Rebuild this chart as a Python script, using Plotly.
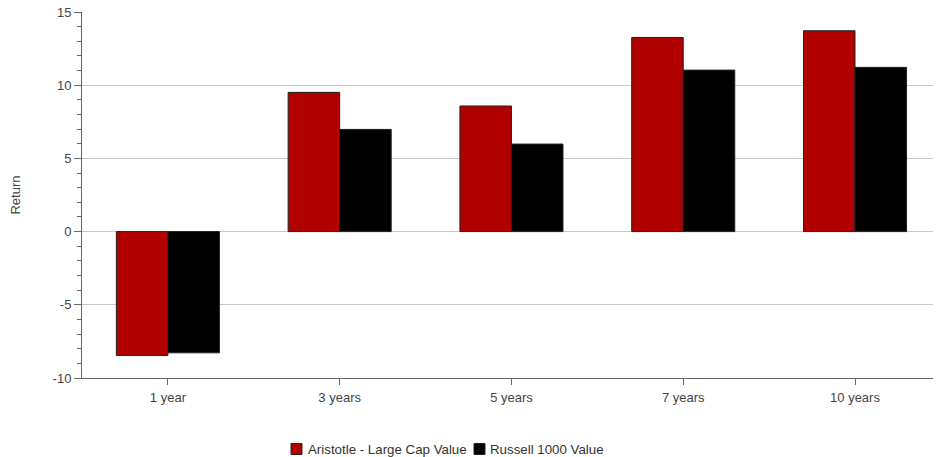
import plotly.graph_objects as go

# Trailing-period labels and annualised returns (%)
periods = ["1 year", "3 years", "5 years", "7 years", "10 years"]
aristotle_returns = [-8.46, 9.51, 8.58, 13.26, 13.72]
russell_returns = [-8.28, 6.98, 5.98, 11.03, 11.22]

series_names = ["Aristotle - Large Cap Value", "Russell 1000 Value"]
series_colors = ["#B00000", "#000000"]

# Y-axis ticks, written with a plain hyphen for negatives
y_tick_values = [-10, -5, 0, 5, 10, 15]
y_tick_labels = ["-10", "-5", "0", "5", "10", "15"]

W, H = 936, 457
M_L, M_R, M_T, M_B = 82, 3, 12, 79
PLOT_W = W - M_L - M_R
PLOT_H = H - M_T - M_B


def px_to_paper(px, py):
    """Convert page pixel coordinates to paper coordinates."""
    return (px - M_L) / PLOT_W, (H - M_B - py) / PLOT_H


fig = go.Figure()
for name, values, color in zip(series_names, [aristotle_returns, russell_returns], series_colors):
    fig.add_trace(go.Bar(
        x=periods,
        y=values,
        name=name,
        marker=dict(color=color, line=dict(color="#222222", width=1)),
        showlegend=False,
    ))

font_family = "Liberation Sans, Arial, sans-serif"

# Compact legend: swatch followed closely by its label
legend_items = [(291, 306), (474, 488)]
shapes = []
annotations = []
for (sx, tx), name, color in zip(legend_items, series_names, series_colors):
    x0, y0 = px_to_paper(sx, 454.5)
    x1, y1 = px_to_paper(sx + 11, 443.5)
    shapes.append(dict(type="rect", xref="paper", yref="paper",
                       x0=x0, y0=y0, x1=x1, y1=y1,
                       fillcolor=color, line=dict(color="#222222", width=1)))
    ax, ay = px_to_paper(tx, 449)
    annotations.append(dict(xref="paper", yref="paper", x=ax, y=ay,
                            xanchor="left", yanchor="middle", showarrow=False,
                            text=name, font=dict(size=13.3, color="#333333")))

fig.update_layout(
    width=W,
    height=H,
    margin=dict(l=M_L, r=M_R, t=M_T, b=M_B),
    paper_bgcolor="white",
    plot_bgcolor="white",
    barmode="group",
    bargap=0.4,
    bargroupgap=0,
    font=dict(family=font_family, size=13, color="#444444"),
    showlegend=False,
    shapes=shapes,
    annotations=annotations,
    xaxis=dict(
        range=[-0.5, 4.454],
        showline=True,
        linecolor="#666666",
        linewidth=1,
        ticks="outside",
        ticklen=6,
        tickcolor="#666666",
        showgrid=False,
        ticklabelstandoff=1,
        tickfont=dict(size=13, color="#444444"),
    ),
    yaxis=dict(
        range=[-10, 15],
        tickmode="array",
        tickvals=y_tick_values,
        ticktext=y_tick_labels,
        showline=True,
        linecolor="#666666",
        linewidth=1,
        ticks="outside",
        ticklen=7,
        tickcolor="#666666",
        showgrid=True,
        gridcolor="#C8C8C8",
        gridwidth=1,
        zeroline=True,
        zerolinecolor="#C8C8C8",
        zerolinewidth=1,
        minor=dict(dtick=1, ticks="outside", ticklen=4, tickcolor="#666666", showgrid=False),
        tickfont=dict(size=13, color="#444444"),
        title=dict(text="Return", font=dict(size=13, color="#444444"), standoff=29),
    ),
)

fig.write_html("out.html")
